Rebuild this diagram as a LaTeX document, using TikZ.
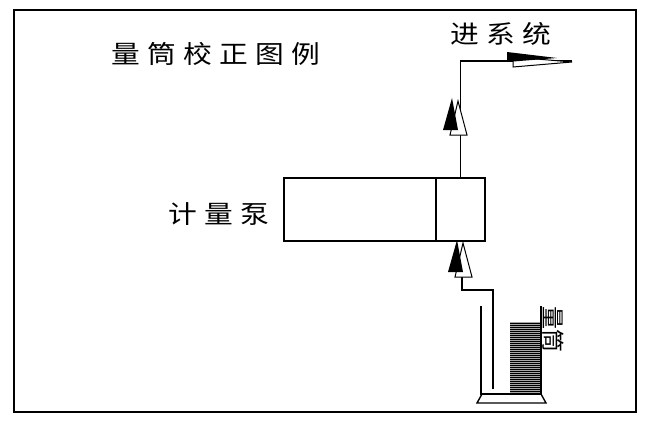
\documentclass[tikz,border=0pt]{standalone}
\usepackage{fontspec}
\newfontfamily\cjk{Noto Sans CJK SC}
\usetikzlibrary{positioning}

\tikzset{
  caption/.style={font=\cjk\addfontfeature{LetterSpace=25}\fontsize{25}{25}\selectfont, inner sep=0pt, xscale=1.15},
  sidetext/.style={font=\cjk\fontsize{23}{23}\selectfont, inner sep=0pt, rotate=-90},
  box/.style={draw, line width=1.2pt, minimum height=63pt, inner sep=0pt, outer sep=0pt},
  pipe/.style={line width=1.2pt},
  wall/.style={line width=1.4pt},
  % double arrow head pointing up, tip at the origin
  uphead/.pic={
    \filldraw[fill=white, line width=1pt] (6,3) -- (-2,37) -- (15,37) -- cycle;
    \fill (0,0) -- (-9,32) -- (6,32) -- cycle;
  },
  % double arrow head pointing right, tip at the origin
  righthead/.pic={
    \filldraw[fill=white, line width=1pt] (0,1) -- (-59,-4) -- (-59,6) -- cycle;
    \fill (-15,-3) -- (-65,-9) -- (-65,1) -- cycle;
  }
}

\begin{document}
\begin{tikzpicture}[x=1pt, y=-1pt]
  \useasboundingbox (0,0) rectangle (654,423);
  \draw[line width=1.6pt] (14,10) rectangle (636,412);

  \node[caption] (title) at (216,54) {量筒校正图例};

  % pump
  \node[box, minimum width=152pt] (pump) at (360,209.5) {};
  \node[box, minimum width=49pt, right=0pt of pump] (pumphead) {};
  \node[caption] (pumplabel) at (219,214) {计量泵};

  % delivery line
  \coordinate (out) at (572,61);
  \coordinate (corner) at (pumphead.north |- out);
  \draw[pipe] (pumphead.north) -- (corner) -- (out);
  \node[caption] (system) at (501,34) {进系统};
  \pic at (452,98) {uphead};
  \pic at (out) {righthead};

  % suction line
  \coordinate (inlet) at (462,272);
  \coordinate (dip) at (493,389);
  \draw[pipe] (inlet) |- (dip |- 0,290) -- (dip);
  \pic at (457,240) {uphead};

  % cylinder
  \fill[gray!70] (510,322) rectangle (541,393);
  \foreach \y in {323,325,...,391}
    \draw[line width=1pt] (510,\y) -- (541,\y);
  \draw[wall] (481,306) -- (481,394) -- (541,394) -- (541,306);
  \draw[wall] (482,394) -- (477,403) -- (546,403) -- (541,394);
  \node[sidetext] (cyllabel) at (553,329) {量筒};
\end{tikzpicture}
\end{document}
